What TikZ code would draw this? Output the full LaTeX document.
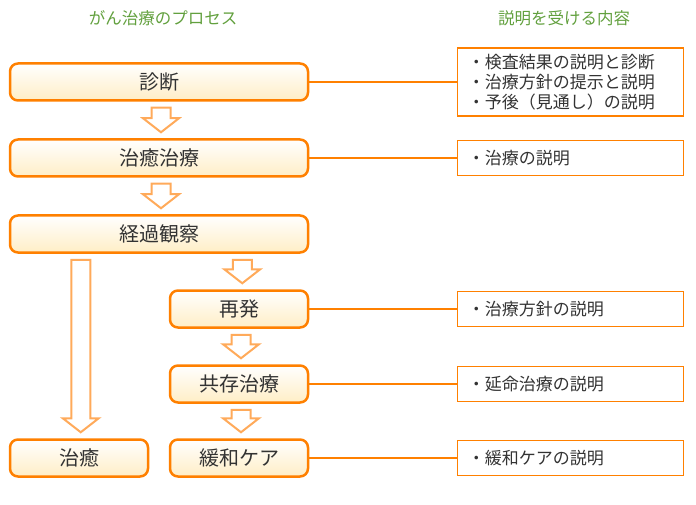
\documentclass[tikz,border=0pt]{standalone}
\usepackage{fontspec}
\setmainfont{Noto Sans CJK JP}
\usetikzlibrary{positioning, calc}
\definecolor{procorange}{RGB}{255,128,0}
\definecolor{arroworange}{RGB}{255,170,90}
\definecolor{procfill}{RGB}{255,238,198}
\definecolor{headgreen}{RGB}{98,160,62}
\definecolor{textgray}{RGB}{51,51,51}

% hollow block arrow from #1 (top, gives x) down to #2 (tip)
\newcommand{\fatarrow}[2]{%
  \draw[fat] let \p1=(#1), \p2=(#2) in
    (\x1-9.5pt,\y1) -- (\x1+9.5pt,\y1) -- (\x1+9.5pt,\y2+14pt)
    -- (\x1+18pt,\y2+14pt) -- (\x1,\y2) -- (\x1-18pt,\y2+14pt)
    -- (\x1-9.5pt,\y2+14pt) -- cycle;}

\begin{document}
\begin{tikzpicture}[x=1pt,y=-1pt,node distance=35.5pt,
            stage/.style={draw=procorange,line width=2.5pt,rounded corners=8pt,
                        top color=white,bottom color=procfill,text=textgray,
                        minimum height=37pt,inner sep=0pt,
                        font=\fontsize{20}{22}\selectfont},
            wide/.style={stage,minimum width=298pt},
            narrow/.style={stage,minimum width=138pt},
            note/.style={draw=procorange,line width=1.2pt,text=textgray,
                        align=left,text width=206pt,inner xsep=10pt,inner ysep=6pt,
                        minimum height=35pt,font=\fontsize{17}{20}\selectfont},
            head/.style={text=headgreen,font=\fontsize{16.5}{18}\selectfont},
            link/.style={draw=procorange,line width=1.2pt},
            fat/.style={draw=arroworange,line width=2pt,fill=white}]
        \useasboundingbox (0,0) rectangle (696,505);
        \node[head] (prochead) at (163,18) {がん治療のプロセス};
        \node[head] (notehead) at (564,18) {説明を受ける内容};
        % process column
        \node[wide] (shindan) at (159,82) {診断};
        \node[wide,below=36.5pt of shindan] (chiryo) {治癒治療};
        \node[wide,below=36.5pt of chiryo] (keika) {経過観察};
        \node[narrow,below left=35.5pt and 0pt of keika.south east] (saihatsu) {再発};
        \node[narrow,below=of saihatsu] (kyozon) {共存治療};
        \node[narrow,below=34.5pt of kyozon] (kanwa) {緩和ケア};
        \node[narrow,left=19.5pt of kanwa] (chiyu) {治癒};
        % explanation column
        \node[note,right=148pt of shindan] (n1)
            {・検査結果の説明と診断\\・治療方針の提示と説明\\・予後（見通し）の説明};
        \node[note,right=148pt of chiryo] (n2) {・治療の説明};
        \node[note,right=148pt of saihatsu] (n3) {・治療方針の説明};
        \node[note,right=148pt of kyozon] (n4) {・延命治療の説明};
        \node[note,right=148pt of kanwa] (n5) {・緩和ケアの説明};
        \draw[link] (shindan) -- (n1);
        \draw[link] (chiryo) -- (n2);
        \draw[link] (saihatsu) -- (n3);
        \draw[link] (kyozon) -- (n4);
        \draw[link] (kanwa) -- (n5);
        % block arrows
        \fatarrow{$(shindan.south)+(2,6)$}{$(chiryo.north)+(2,-6)$}
        \fatarrow{$(chiryo.south)+(2,6)$}{$(keika.north)+(2,-6)$}
        \fatarrow{$(keika.south east)+(-67,6)$}{$(saihatsu.north)+(2,-6)$}
        \fatarrow{$(saihatsu.south)+(2,6)$}{$(kyozon.north)+(2,-6)$}
        \fatarrow{$(kyozon.south)+(2,6)$}{$(kanwa.north)+(2,-6)$}
        \fatarrow{$(keika.south west)+(72,6)$}{$(chiyu.north)+(3,-6)$}
\end{tikzpicture}
\end{document}
